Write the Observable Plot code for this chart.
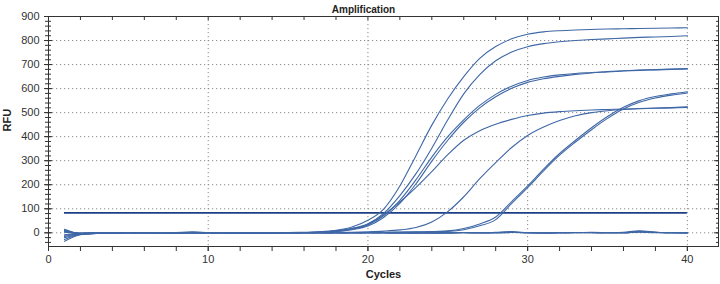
<!DOCTYPE html>
<html>
<head>
<meta charset="utf-8">
<script src="https://cdn.jsdelivr.net/npm/d3@7"></script>
<script src="https://cdn.jsdelivr.net/npm/@observablehq/plot@0.6"></script>
<style>
  html, body { margin: 0; padding: 0; background: #fff; }
  #chart svg { display: block; }
</style>
</head>
<body>
<div id="chart"></div>
<script>
// ---- Data ----
const title = "Amplification";
const xLabel = "Cycles";
const yLabel = "RFU";
const cycles = [1,2,3,4,5,6,7,8,9,10,11,12,13,14,15,16,17,18,19,20,21,22,23,24,25,26,27,28,29,30,31,32,33,34,35,36,37,38,39,40];

const wellA = [12,-3,-2,-1,0,1,0,-1,2,0,1,0,-1,0,1,2,4,10,24,52,100,195,320,448,558,650,726,775,807,826,836,841,844,846,848,849,850,851,852,853];
const wellB = [-35,-8,-3,-1,0,0,1,0,-1,1,0,-1,0,1,0,1,3,8,18,38,82,155,245,352,470,578,658,716,752,774,787,795,800,804,807,810,813,815,817,820];
const wellC = [8,-4,-2,0,1,0,-1,0,1,0,-1,0,1,0,0,1,2,6,15,33,72,135,220,315,400,470,530,576,610,634,648,657,663,667,671,674,677,679,681,683];
const wellD = [-20,-6,-2,-1,0,1,0,0,-1,0,1,0,0,-1,1,0,2,5,13,28,65,122,203,298,385,460,520,566,601,626,641,651,659,665,669,673,676,678,680,682];
const wellE = [5,-2,-1,0,0,-1,1,0,0,1,0,-1,0,1,0,1,3,8,18,36,76,128,188,255,325,385,425,452,472,488,498,504,508,511,513,515,517,519,521,524];
const wellF = [-10,-4,-2,0,1,0,0,-1,1,0,0,1,-1,0,0,1,0,1,2,4,7,12,22,45,88,150,225,292,355,405,440,467,487,500,508,513,516,518,520,522];
const wellG = [15,-3,-1,0,0,1,0,0,-1,0,1,0,0,-1,0,0,1,0,1,1,2,3,4,5,8,18,37,66,130,195,265,330,385,437,484,522,550,567,578,587];
const wellH = [-28,-7,-3,-1,0,0,1,0,0,-1,0,1,0,0,-1,0,0,1,0,1,1,2,3,4,6,13,29,55,122,188,258,323,378,429,476,515,543,561,573,582];
const neg1 = [10,-2,-1,0,1,0,-1,1,3,1,0,-1,0,1,0,-1,0,1,0,-1,0,1,-2,0,-1,1,0,2,5,0,-2,0,1,0,-1,2,8,3,-1,0];
const neg2 = [-15,-5,-2,-1,0,1,0,0,2,0,-1,0,1,0,0,1,-1,0,1,0,-1,-2,-1,0,1,0,-1,0,2,-1,0,1,0,2,0,-1,4,2,0,1];
const neg3 = [3,-1,0,1,0,-1,0,1,2,1,0,0,-1,0,1,0,0,-1,0,1,0,-1,0,-2,0,1,0,1,3,0,-1,0,1,1,0,0,6,1,0,-1];
const neg4 = [-8,-3,-1,0,0,0,1,-1,1,0,1,0,0,-1,0,0,1,0,-1,0,1,0,0,-1,-2,0,0,-1,1,1,0,-1,0,0,1,0,3,0,1,-2];

const seriesNames = ["A","B","C","D","E","F","G","H","N1","N2","N3","N4"];
const seriesValues = [wellA,wellB,wellC,wellD,wellE,wellF,wellG,wellH,neg1,neg2,neg3,neg4];

const thresholdValue = 83;
const thresholdStart = 1;
const thresholdEnd = 40;

const xDomain = [0, 41.95];
const yDomain = [-57, 900];
const xTickLabels = [0, 10, 20, 30, 40];
const xMinorTicks = [0,2,4,6,8,10,12,14,16,18,20,22,24,26,28,30,32,34,36,38,40];
const xGrid = [10, 20, 30, 40];
const yTickLabels = [0, 100, 200, 300, 400, 500, 600, 700, 800, 900];
const yMinorTicks = [-40,-20,0,20,40,60,80,100,120,140,160,180,200,220,240,260,280,300,320,340,360,380,400,420,440,460,480,500,520,540,560,580,600,620,640,660,680,700,720,740,760,780,800,820,840,860,880,900];
const yGrid = [0, 100, 200, 300, 400, 500, 600, 700, 800];

// ---- Build table ----
const rows = seriesNames.flatMap((name, i) =>
  cycles.map((c, j) => ({series: name, cycle: c, rfu: seriesValues[i][j]}))
);

const axisColor = "#333";
const curveColor = "#3f67a6";
const gridStyle = {stroke: "#8a8a8a", strokeOpacity: 1, strokeDasharray: "1.2,2.8", strokeWidth: 1};
const blank = () => "";

const chart = Plot.plot({
  width: 720,
  height: 284,
  marginLeft: 48,
  marginRight: 2,
  marginTop: 16,
  marginBottom: 38,
  style: {fontFamily: "'Liberation Sans', Arial, sans-serif", background: "#fff"},
  x: {domain: xDomain, label: null},
  y: {domain: yDomain, label: null},
  marks: [
    Plot.gridX({ticks: xGrid, ...gridStyle}),
    Plot.gridY({ticks: yGrid, ...gridStyle}),
    Plot.frame({stroke: axisColor, strokeWidth: 1}),
    Plot.axisY({ticks: yMinorTicks, tickSize: 6, dx: 3, tickFormat: blank, color: axisColor, label: null}),
    Plot.axisY({ticks: yTickLabels, tickSize: 8, dx: 4, tickFormat: blank, color: axisColor, label: null}),
    Plot.axisY({ticks: yTickLabels, tickSize: 0, tickPadding: 9, fontSize: 11, color: axisColor, label: null}),
    Plot.axisY({anchor: "right", ticks: yMinorTicks, tickSize: 3, dx: -3, tickFormat: blank, color: axisColor, label: null}),
    Plot.axisY({anchor: "right", ticks: yTickLabels, tickSize: 5, dx: -5, tickFormat: blank, color: axisColor, label: null}),
    Plot.axisX({ticks: xMinorTicks, tickSize: 5, tickFormat: blank, color: axisColor, label: null}),
    Plot.axisX({ticks: xTickLabels, tickSize: 5, tickPadding: 4, fontSize: 11, color: axisColor, label: null}),
    Plot.axisX({anchor: "top", ticks: xMinorTicks, tickSize: 3, dy: 3, tickFormat: blank, color: axisColor, label: null}),
    Plot.ruleY([thresholdValue], {x1: thresholdStart, x2: thresholdEnd, stroke: "#1c3f86", strokeWidth: 1.8}),
    Plot.line(rows, {x: "cycle", y: "rfu", z: "series", stroke: curveColor, strokeWidth: 1.1, curve: "monotone-x"}),
    Plot.text([title], {frameAnchor: "top", dx: -20, dy: -11, fontWeight: "bold", fontSize: 10, fill: "#222"}),
    Plot.text([yLabel], {frameAnchor: "left", dx: -41, rotate: -90, fontWeight: "bold", fontSize: 11, fill: "#222"}),
    Plot.text([xLabel], {frameAnchor: "bottom", dy: 31, fontWeight: "bold", fontSize: 11, fill: "#222"})
  ]
});
document.getElementById("chart").appendChild(chart);
</script>
</body>
</html>
